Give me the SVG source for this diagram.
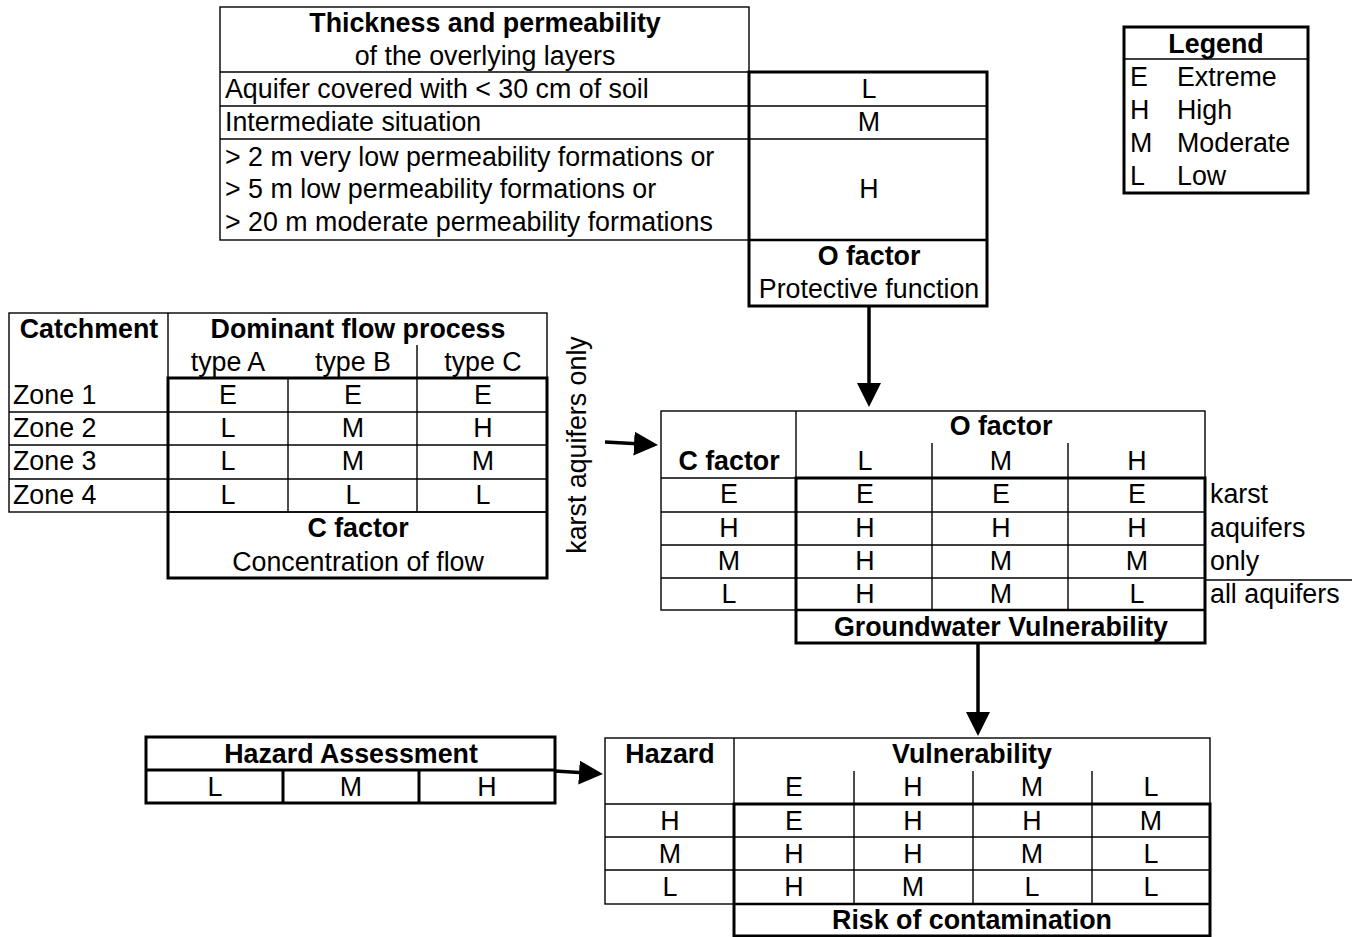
<svg xmlns="http://www.w3.org/2000/svg" width="1352" height="937" viewBox="0 0 1352 937">
<style>
text{font-family:"Liberation Sans",Arial,sans-serif;font-size:26.8px;fill:#000}
.b{font-weight:bold}
.c{text-anchor:middle}
.thin{fill:none;stroke:#000;stroke-width:1.4}
.thick{fill:none;stroke:#000;stroke-width:3}
.mid{fill:none;stroke:#000;stroke-width:2.4}
.arrow{fill:none;stroke:#000;stroke-width:3.5;marker-end:url(#ah)}
</style>
<defs>
<marker id="ah" viewBox="0 0 24 24" refX="12" refY="12" markerWidth="24" markerHeight="24" markerUnits="userSpaceOnUse" orient="auto">
<path d="M0,0 L24,12 L0,24 z" fill="#000"/>
</marker>
</defs>
<rect width="1352" height="937" fill="#fff"/>

<g id="thickness-table">
<rect class="thin" x="220" y="7" width="529" height="233"/>
<line class="thin" x1="220" y1="72" x2="749" y2="72"/>
<line class="thin" x1="220" y1="106" x2="987" y2="106"/>
<line class="thin" x1="220" y1="139" x2="987" y2="139"/>
<line class="mid" x1="749" y1="240" x2="987" y2="240"/>
<rect class="thick" x="749" y="72" width="238" height="234"/>
<text class="b c" x="485" y="32">Thickness and permeability</text>
<text class="c" x="485" y="65">of the overlying layers</text>
<text x="225" y="98">Aquifer covered with &lt; 30 cm of soil</text>
<text x="225" y="131">Intermediate situation</text>
<text x="225" y="166">&gt; 2 m very low permeability formations or</text>
<text x="225" y="198">&gt; 5 m low permeability formations or</text>
<text x="225" y="231">&gt; 20 m moderate permeability formations</text>
<text class="c" x="869" y="98">L</text>
<text class="c" x="869" y="131">M</text>
<text class="c" x="869" y="198">H</text>
<text class="b c" x="869" y="265">O factor</text>
<text class="c" x="869" y="298">Protective function</text>
</g>

<g id="catchment-table">
<rect class="thin" x="9" y="313" width="538" height="199"/>
<line class="thin" x1="168" y1="313" x2="168" y2="378"/>
<line class="thin" x1="417" y1="345" x2="417" y2="512"/>
<line class="thin" x1="288" y1="378" x2="288" y2="512"/>
<line class="thin" x1="9" y1="412" x2="547" y2="412"/>
<line class="thin" x1="9" y1="445" x2="547" y2="445"/>
<line class="thin" x1="9" y1="479" x2="547" y2="479"/>
<line class="thin" x1="168" y1="512" x2="547" y2="512"/>
<rect class="thick" x="168" y="378" width="379" height="200"/>
<text class="b c" x="89" y="338">Catchment</text>
<text class="b c" x="358" y="338">Dominant flow process</text>
<text class="c" x="228" y="371">type A</text>
<text class="c" x="353" y="371">type B</text>
<text class="c" x="483" y="371">type C</text>
<text x="13" y="404">Zone 1</text>
<text x="13" y="437">Zone 2</text>
<text x="13" y="470">Zone 3</text>
<text x="13" y="504">Zone 4</text>
<text class="c" x="228" y="404">E</text><text class="c" x="353" y="404">E</text><text class="c" x="483" y="404">E</text>
<text class="c" x="228" y="437">L</text><text class="c" x="353" y="437">M</text><text class="c" x="483" y="437">H</text>
<text class="c" x="228" y="470">L</text><text class="c" x="353" y="470">M</text><text class="c" x="483" y="470">M</text>
<text class="c" x="228" y="504">L</text><text class="c" x="353" y="504">L</text><text class="c" x="483" y="504">L</text>
<text class="b c" x="358" y="537">C factor</text>
<text class="c" x="358" y="571">Concentration of flow</text>
</g>

<g id="karst-label">
<text class="c" transform="translate(586,445) rotate(-90)">karst aquifers only</text>
</g>

<g id="vulnerability-table">
<rect class="thin" x="661" y="411" width="544" height="199"/>
<line class="thin" x1="796" y1="411" x2="796" y2="478"/>
<line class="thin" x1="932" y1="443" x2="932" y2="610"/>
<line class="thin" x1="1068" y1="443" x2="1068" y2="610"/>
<line class="thin" x1="661" y1="478" x2="796" y2="478"/>
<line class="thin" x1="661" y1="512" x2="1205" y2="512"/>
<line class="thin" x1="661" y1="545" x2="1205" y2="545"/>
<line class="thin" x1="661" y1="578" x2="1205" y2="578"/>
<line class="thin" x1="1205" y1="580" x2="1352" y2="580"/>
<line class="mid" x1="796" y1="610" x2="1205" y2="610"/>
<rect class="thick" x="796" y="478" width="409" height="165"/>
<text class="b c" x="1001" y="435">O factor</text>
<text class="b c" x="729" y="470">C factor</text>
<text class="c" x="865" y="470">L</text><text class="c" x="1001" y="470">M</text><text class="c" x="1137" y="470">H</text>
<text class="c" x="729" y="503">E</text><text class="c" x="865" y="503">E</text><text class="c" x="1001" y="503">E</text><text class="c" x="1137" y="503">E</text>
<text class="c" x="729" y="537">H</text><text class="c" x="865" y="537">H</text><text class="c" x="1001" y="537">H</text><text class="c" x="1137" y="537">H</text>
<text class="c" x="729" y="570">M</text><text class="c" x="865" y="570">H</text><text class="c" x="1001" y="570">M</text><text class="c" x="1137" y="570">M</text>
<text class="c" x="729" y="603">L</text><text class="c" x="865" y="603">H</text><text class="c" x="1001" y="603">M</text><text class="c" x="1137" y="603">L</text>
<text x="1210" y="503">karst</text>
<text x="1210" y="537">aquifers</text>
<text x="1210" y="570">only</text>
<text x="1210" y="603">all aquifers</text>
<text class="b c" x="1001" y="636">Groundwater Vulnerability</text>
</g>

<g id="hazard-assessment">
<rect class="thick" x="146" y="737" width="409" height="66"/>
<line class="thick" x1="146" y1="770" x2="555" y2="770"/>
<line class="thick" x1="283" y1="770" x2="283" y2="803"/>
<line class="thick" x1="419" y1="770" x2="419" y2="803"/>
<text class="b c" x="351" y="763">Hazard Assessment</text>
<text class="c" x="215" y="796">L</text><text class="c" x="351" y="796">M</text><text class="c" x="487" y="796">H</text>
</g>

<g id="risk-table">
<rect class="thin" x="605" y="738" width="605" height="166"/>
<line class="thin" x1="734" y1="738" x2="734" y2="804"/>
<line class="thin" x1="854" y1="771" x2="854" y2="904"/>
<line class="thin" x1="973" y1="771" x2="973" y2="904"/>
<line class="thin" x1="1092" y1="771" x2="1092" y2="904"/>
<line class="thin" x1="605" y1="804" x2="734" y2="804"/>
<line class="thin" x1="605" y1="837" x2="1210" y2="837"/>
<line class="thin" x1="605" y1="870" x2="1210" y2="870"/>
<line class="mid" x1="734" y1="904" x2="1210" y2="904"/>
<rect class="thick" x="734" y="804" width="476" height="132"/>
<text class="b c" x="670" y="763">Hazard</text>
<text class="b c" x="972" y="763">Vulnerability</text>
<text class="c" x="794" y="796">E</text><text class="c" x="913" y="796">H</text><text class="c" x="1032" y="796">M</text><text class="c" x="1151" y="796">L</text>
<text class="c" x="670" y="830">H</text><text class="c" x="794" y="830">E</text><text class="c" x="913" y="830">H</text><text class="c" x="1032" y="830">H</text><text class="c" x="1151" y="830">M</text>
<text class="c" x="670" y="863">M</text><text class="c" x="794" y="863">H</text><text class="c" x="913" y="863">H</text><text class="c" x="1032" y="863">M</text><text class="c" x="1151" y="863">L</text>
<text class="c" x="670" y="896">L</text><text class="c" x="794" y="896">H</text><text class="c" x="913" y="896">M</text><text class="c" x="1032" y="896">L</text><text class="c" x="1151" y="896">L</text>
<text class="b c" x="972" y="929">Risk of contamination</text>
</g>

<g id="legend">
<rect class="thick" x="1124" y="27" width="184" height="166"/>
<line class="thin" x1="1124" y1="59" x2="1308" y2="59"/>
<text class="b c" x="1216" y="53">Legend</text>
<text x="1130" y="86">E</text><text x="1177" y="86">Extreme</text>
<text x="1130" y="119">H</text><text x="1177" y="119">High</text>
<text x="1130" y="152">M</text><text x="1177" y="152">Moderate</text>
<text x="1130" y="185">L</text><text x="1177" y="185">Low</text>
</g>

<g id="connectors">
<line class="arrow" x1="869" y1="306" x2="869" y2="395"/>
<line class="arrow" x1="605" y1="442" x2="646" y2="444.3"/>
<line class="arrow" x1="978" y1="643" x2="978" y2="724"/>
<line class="arrow" x1="555" y1="771" x2="591" y2="773.3"/>
</g>
</svg>
